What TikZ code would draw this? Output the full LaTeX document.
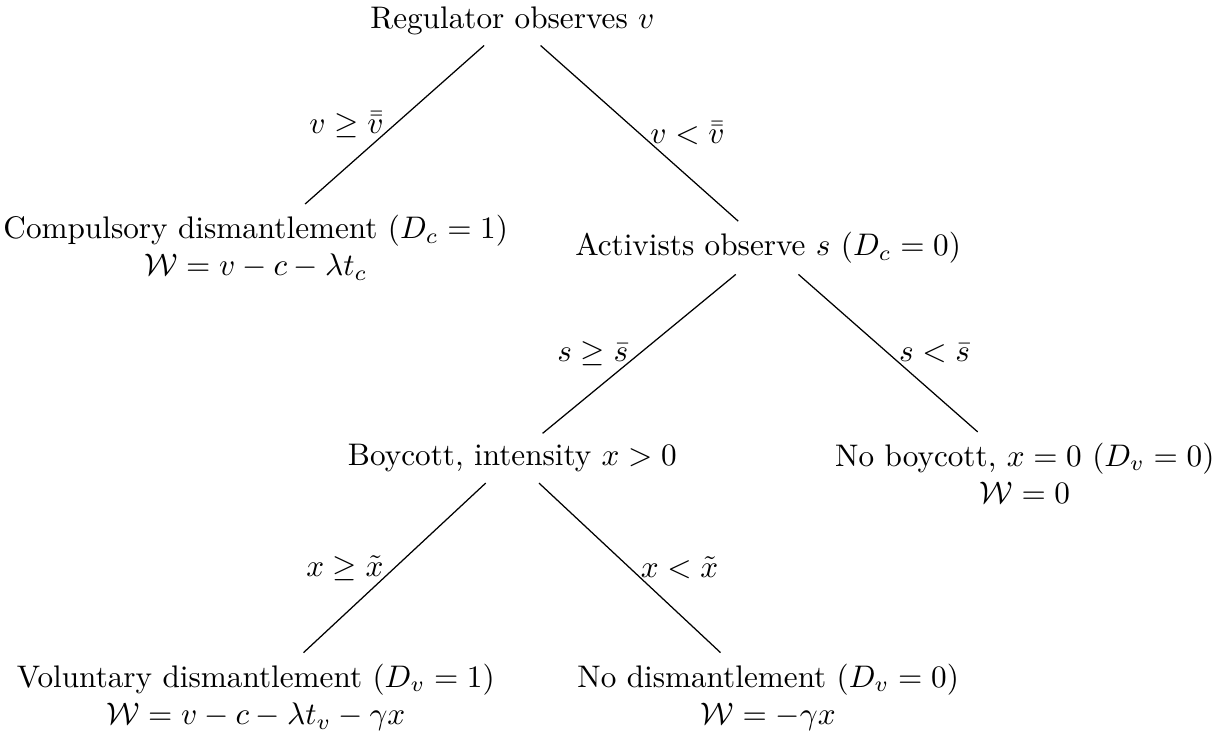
\documentclass[tikz,border=0pt]{standalone}
\usepackage{amsmath, amssymb}
\usepackage{tikz}

\begin{document}
\begin{tikzpicture}[every node/.style={align=center}]
\useasboundingbox (0,0) rectangle (13.84,-8.30);
% decision nodes
\node (reg) at (5.77,-0.23) {Regulator observes $v$};
\node (comp) at (2.88,-2.79) {Compulsory dismantlement ($D_c=1$)\\ $\mathcal{W}=v-c-\lambda t_c$};
\node (act) at (8.65,-2.79) {Activists observe $s$ ($D_c=0$)};
\node (boy) at (5.77,-5.16) {Boycott, intensity $x>0$};
\node (noboy) at (11.54,-5.33) {No boycott, $x=0$ ($D_v=0$)\\ $\mathcal{W}=0$};
\node (vol) at (2.88,-7.85) {Voluntary dismantlement ($D_v=1$)\\ $\mathcal{W}=v-c-\lambda t_v-\gamma x$};
\node (nodis) at (8.65,-7.85) {No dismantlement ($D_v=0$)\\ $\mathcal{W}=-\gamma x$};
% branches
\draw (reg) -- node[left] {$v\geq\bar{\bar{v}}$} (comp);
\draw (reg) -- node[right] {$v<\bar{\bar{v}}$} (act);
\draw (act) -- node[left] {$s\geq\bar{s}$} (boy);
\draw (act) -- node[right] {$s<\bar{s}$} (noboy);
\draw (boy) -- node[left] {$x\geq\tilde{x}$} (vol);
\draw (boy) -- node[right] {$x<\tilde{x}$} (nodis);
\end{tikzpicture}
\end{document}
